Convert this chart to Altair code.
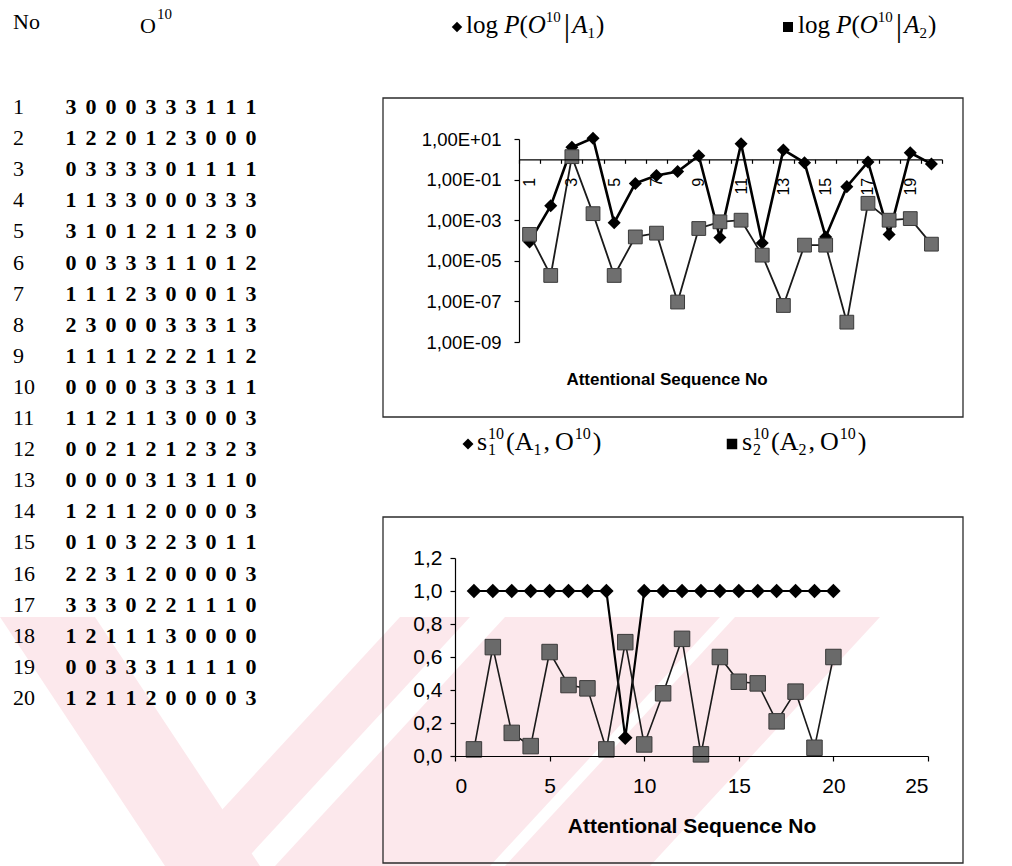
import altair as alt
import pandas as pd

# ---- data -------------------------------------------------------------
seq_no = list(range(1, 21))
sequences = [
    "3000333111", "1220123000", "0333301111", "1133000333", "3101211230",
    "0033311012", "1112300013", "2300033313", "1111222112", "0000333311",
    "1121130003", "0021212323", "0000313110", "1211200003", "0103223011",
    "2231200003", "3330221110", "1211130000", "0033311110", "1211200003",
]

# P(O^10 | A_1) and P(O^10 | A_2), plotted on a log axis
logp_a1 = [8.5e-5, 5.1e-3, 3.9, 11.0, 7.4e-4, 6.5e-2, 0.16, 0.25, 1.5, 1.4e-4,
           5.8, 7.6e-5, 2.9, 0.68, 1.5e-4, 4.5e-2, 0.74, 2.0e-4, 2.1, 0.59]
logp_a2 = [2.0e-4, 1.9e-6, 1.35, 2.1e-3, 1.9e-6, 1.5e-4, 2.3e-4, 9.3e-8, 3.9e-4, 8.3e-4,
           1.0e-3, 1.9e-5, 6.3e-8, 5.9e-5, 5.9e-5, 9.5e-9, 6.8e-3, 1.0e-3, 1.2e-3, 6.6e-5]

# normalised scores s1(A1, O) and s2(A2, O)
s1_a1 = [1.0, 1.0, 1.0, 1.0, 1.0, 1.0, 1.0, 1.0, 0.11, 1.0,
         1.0, 1.0, 1.0, 1.0, 1.0, 1.0, 1.0, 1.0, 1.0, 1.0]
s2_a2 = [0.04, 0.66, 0.14, 0.06, 0.63, 0.43, 0.41, 0.04, 0.69, 0.07,
         0.38, 0.71, 0.01, 0.60, 0.45, 0.44, 0.21, 0.39, 0.05, 0.60]

top_y_ticks = [1e-9, 1e-7, 1e-5, 1e-3, 1e-1, 1e1]
bottom_y_ticks = [0.0, 0.2, 0.4, 0.6, 0.8, 1.0, 1.2]
bottom_x_ticks = [0, 5, 10, 15, 20, 25]
x_title = "Attentional Sequence No"

# ---- layout -----------------------------------------------------------
W, H = 1012, 866
SERIF = "Liberation Serif"
SANS = "Liberation Sans"
one = alt.Data(values=[{"k": 0}])

# faint background watermark bands (page pixels)
watermark_bands = [
    [[0, 617], [95, 617], [260, 866], [165, 866], [0, 617]],
    [[400, 617], [470, 617], [240, 866], [170, 866], [400, 617]],
    [[505, 617], [720, 617], [490, 866], [275, 866], [505, 617]],
    [[735, 617], [880, 617], [650, 866], [505, 866], [735, 617]],
]


def label(text, x, y, size, font=SERIF, italic=False, bold=False,
          align="left", baseline="alphabetic"):
    return alt.Chart(one).mark_text(
        text=text, font=font, fontSize=size,
        fontStyle="italic" if italic else "normal",
        fontWeight="bold" if bold else "normal",
        align=align, baseline=baseline, color="black",
    ).encode(x=alt.value(x), y=alt.value(y))


def glyph(shape, x, y, size):
    return alt.Chart(one).mark_point(
        shape=shape, filled=True, color="black", size=size, opacity=1
    ).encode(x=alt.value(x), y=alt.value(y))


def frame(x0, y0, x1, y1):
    return alt.Chart(one).mark_rect(
        filled=False, stroke="#2b2b2b", strokeWidth=1.3
    ).encode(x=alt.value(x0), x2=alt.value(x1), y=alt.value(y0), y2=alt.value(y1))


# approximate Times advance widths (em units)
REG = {"l": .278, "o": .5, "g": .5, " ": .25, "(": .333, ")": .333, "|": .2,
       "A": .722, "O": .722, "P": .556, "s": .389, ",": .25}
ITA = {"P": .611, "O": .722, "A": .611}


def adv(text, size, italic):
    table = ITA if italic else REG
    return sum(table.get(c, REG.get(c, .5)) for c in text) * size


def math_run(x0, base, parts):
    """parts: (text, size, italic, dy, extra_gap, advance?)"""
    out, x = [], x0
    for text, size, italic, dy, gap, move in parts:
        out.append(label(text, x, base + dy, size, italic=italic))
        if move:
            x += adv(text, size, italic) + gap
    return out


def legend_logp(x0, base, idx):
    return math_run(x0, base, [
        ("log ", 25, False, 0, 0, True),
        ("P", 25, True, 0, 0, True),
        ("(", 25, False, 0, 0, True),
        ("O", 25, True, 0, 0, True),
        ("10", 15, False, -11, 3, True),
        ("|", 32, False, 3, 2, True),
        ("A", 25, True, 0, 0, True),
        (idx, 15, False, 5, 1, True),
        (")", 25, False, 0, 0, True),
    ])


def legend_s(x0, base, idx):
    return math_run(x0, base, [
        ("s", 26, False, 0, 1, True),
        (idx, 16, False, 5, 0, False),
        ("10", 16, False, -11, 2, True),
        ("(A", 26, False, 0, 0, True),
        (idx, 16, False, 5, 2, True),
        (",", 26, False, 0, 5, True),
        ("O", 26, False, 0, 1, True),
        ("10", 16, False, -11, 2, True),
        (")", 26, False, 0, 0, True),
    ])


# ---- background -----------------------------------------------------------
watermark = alt.Chart(alt.Data(values=[
    {"type": "Feature", "properties": {}, "geometry": {"type": "Polygon", "coordinates": [ring]}}
    for ring in watermark_bands
])).mark_geoshape(fill="#fce8ec", stroke=None, strokeWidth=0).project(
    type="identity", scale=1, translate=[0, 0]
)

# ---- sequence table -----------------------------------------------------
cells = pd.DataFrame([
    {"row": n, "col": i, "digit": d}
    for n, s in zip(seq_no, sequences) for i, d in enumerate(s)
])
rows = pd.DataFrame({"row": seq_no, "label": [str(n) for n in seq_no]})
row_scale = alt.Scale(domain=[1, 20], range=[107, 698])

digits = alt.Chart(cells).mark_text(
    font=SERIF, fontSize=22, fontWeight="bold", align="center", baseline="middle", color="black"
).encode(
    x=alt.X("col:Q", scale=alt.Scale(domain=[0, 9], range=[71, 251]), axis=None),
    y=alt.Y("row:Q", scale=row_scale, axis=None),
    text="digit:N",
)
numbers = alt.Chart(rows).mark_text(
    font=SERIF, fontSize=22, align="left", baseline="middle", color="black"
).encode(
    x=alt.value(13),
    y=alt.Y("row:Q", scale=row_scale, axis=None),
    text="label:N",
)

# ---- upper chart: log probabilities --------------------------------------
top_df = pd.DataFrame({"n": seq_no, "a1": logp_a1, "a2": logp_a2})
axis_common = dict(labelFont=SANS, labelColor="black", domainColor="black",
                   tickColor="black", grid=False, title=None, domainWidth=1.2,
                   tickWidth=1.2, zindex=1)

top_x_axis = alt.Axis(
    orient="bottom", offset=159.3 - H, labelAngle=270,
    labelExpr="datum.value % 2 == 1 ? datum.label : ''", labelOverlap=False,
    tickBand="extent", tickSize=4, labelPadding=14, labelFontSize=16, **axis_common,
)
exp_expr = "abs(round(log(datum.value) / LN10))"
top_y_axis = alt.Axis(
    orient="left", offset=-519, values=top_y_ticks,
    labelExpr="'1,00E' + (datum.value >= 1 ? '+' : '-') + (" + exp_expr + " < 10 ? '0' : '') + " + exp_expr,
    tickSize=5, labelPadding=13, labelFontSize=18.5, **axis_common,
)

top_base = alt.Chart(top_df)


def tenc(field, with_axes=False):
    return dict(
        x=alt.X("n:O", bandPosition=0.5,
                scale=alt.Scale(type="band", domain=seq_no, range=[519, 942],
                                paddingInner=0, paddingOuter=0),
                axis=top_x_axis if with_axes else None),
        y=alt.Y(field + ":Q",
                scale=alt.Scale(type="log", domain=[1e-9, 1e1], range=[342, 139], nice=False),
                axis=top_y_axis if with_axes else None),
    )


top_layers = [
    top_base.mark_line(color="black", strokeWidth=2.6).encode(**tenc("a1", True)),
    top_base.mark_point(shape="diamond", filled=True, color="black", size=170, opacity=1).encode(**tenc("a1")),
    top_base.mark_line(color="#1a1a1a", strokeWidth=1.8).encode(**tenc("a2")),
    top_base.mark_point(shape="square", filled=True, fill="#6f6f6f", stroke="#3a3a3a",
                        strokeWidth=1, size=190, opacity=1).encode(**tenc("a2")),
]

# ---- lower chart: scores --------------------------------------------------
bot_df = pd.DataFrame({"n": seq_no, "s1": s1_a1, "s2": s2_a2})

bot_x_axis = alt.Axis(orient="bottom", offset=756 - H, values=bottom_x_ticks,
                      tickSize=5, labelPadding=14, labelFontSize=21, **axis_common)
bot_y_axis = alt.Axis(orient="left", offset=-455, values=bottom_y_ticks,
                      labelExpr="replace(format(datum.value, '.1f'), '.', ',')",
                      tickSize=5, labelPadding=8, labelFontSize=21, **axis_common)

bot_base = alt.Chart(bot_df)


def benc(field, with_axes=False):
    return dict(
        x=alt.X("n:Q", scale=alt.Scale(domain=[0, 25], range=[455, 928], nice=False, zero=False),
                axis=bot_x_axis if with_axes else None),
        y=alt.Y(field + ":Q", scale=alt.Scale(domain=[0, 1.2], range=[756, 558], nice=False),
                axis=bot_y_axis if with_axes else None),
    )


bottom_layers = [
    bot_base.mark_line(color="black", strokeWidth=2.2).encode(**benc("s1", True)),
    bot_base.mark_point(shape="diamond", filled=True, color="black", size=210, opacity=1).encode(**benc("s1")),
    bot_base.mark_line(color="#1a1a1a", strokeWidth=1.6).encode(**benc("s2")),
    bot_base.mark_point(shape="square", filled=True, fill="#6a6a6a", stroke="#3a3a3a",
                        strokeWidth=1, size=240, opacity=1).encode(**benc("s2")),
]

# ---- assemble -------------------------------------------------------------
layers = [
    watermark,
    frame(383, 98, 963, 417),
    frame(383, 517, 963, 863),
    label("No", 13, 29, 22),
    label("O", 140, 33, 22),
    label("10", 157, 19, 15),
    numbers,
    digits,
    glyph("diamond", 457, 27, 110),
    *legend_logp(466, 33, "1"),
    glyph("square", 788, 27, 100),
    *legend_logp(798, 33, "2"),
    glyph("diamond", 468, 444, 120),
    *legend_s(477, 450, "1"),
    glyph("square", 732, 444, 110),
    *legend_s(742, 450, "2"),
    *top_layers,
    label(x_title, 667, 380, 17, font=SANS, bold=True, align="center", baseline="middle"),
    *bottom_layers,
    label(x_title, 692, 827, 21, font=SANS, bold=True, align="center", baseline="middle"),
]

chart = (
    alt.layer(*layers)
    .resolve_scale(x="independent", y="independent")
    .resolve_axis(x="independent", y="independent")
    .properties(width=W, height=H, padding=0, background="white",
                autosize=alt.AutoSizeParams(type="none"))
    .configure_view(stroke=None)
)

chart.save("out.html", embed_options={"renderer": "svg", "actions": False})
